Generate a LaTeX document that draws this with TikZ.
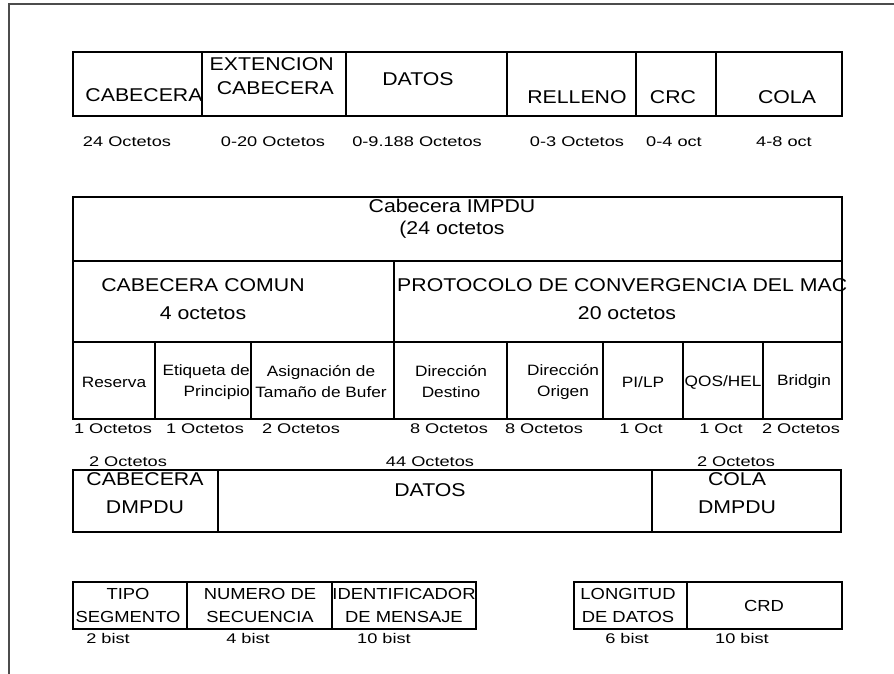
\documentclass[tikz,border=0pt]{standalone}
\usepackage{fontspec}
\setmainfont{Liberation Sans}[FakeStretch=1.15]
\newfontfamily\labfont{Liberation Sans}[FakeStretch=1.3]
\usepackage{tikz}

\begin{document}
\begin{tikzpicture}[x=1pt,y=-1pt,
  big/.style={font=\fontsize{18.5}{24}\selectfont,inner sep=0pt,align=center},
  small/.style={font=\fontsize{15}{21}\selectfont,inner sep=0pt,align=center},
  seg/.style={font=\fontsize{16}{23}\selectfont,inner sep=0pt,align=center},
  lab/.style={font=\labfont\fontsize{14}{14}\selectfont,inner sep=0pt},
  box/.style={line width=1.2pt},
  frame/.style={line width=2pt,black!70}]
\useasboundingbox (0,0) rectangle (894,674);
\draw[frame] (9,674) -- (9,4.5) -- (894,4.5);

\draw[box] (73,52) rectangle (842,116);
\foreach \x in {202,346,507,636,716} \draw[box] (\x,52) -- (\x,116);
\draw (144,95) node[big] (C1) {CABECERA} (334,76) node[big,anchor=east,align=right] (C2) {EXTENCION\\CABECERA} (418,79) node[big] (C3) {DATOS} (577,97) node[big] (C4) {RELLENO} (673,97) node[big] (C5) {CRC} (787,97) node[big] (C6) {COLA};
\draw (127,142) node[lab] (O1) {24 Octetos} (273,142) node[lab] (O2) {0-20 Octetos} (417,142) node[lab] (O3) {0-9.188 Octetos} (577,142) node[lab] (O4) {0-3 Octetos} (674,142) node[lab] (O5) {0-4 oct} (784,142) node[lab] (O6) {4-8 oct};

\draw[box] (73,197) rectangle (842,419);
\draw[box] (73,261) -- (842,261) (73,342) -- (842,342) (394,261) -- (394,419);
\foreach \x in {155,251,507,603,683,763} \draw[box] (\x,342) -- (\x,419);
\draw (452,219) node[big] (H0) {Cabecera IMPDU\\[-2pt](24 octetos};
\draw (203,299) node[big] (H1) {CABECERA COMUN\\[4pt]4 octetos};
\draw (397,285) node[big,anchor=west] (H2) {PROTOCOLO DE CONVERGENCIA DEL MAC} (627,313) node[big] (H3) {20 octetos};
\draw (114,382) node[small] (F1) {Reserva} (250,382) node[small,anchor=east,align=right] (F2) {Etiqueta de\\Principio} (321,382) node[small] (F3) {Asignación de\\Tamaño de Bufer} (451,382) node[small] (F4) {Dirección\\Destino} (563,382) node[small] (F5) {Dirección\\Origen} (643,382) node[small] (F6) {PI/LP} (723,382) node[small] (F7) {QOS/HEL} (804,382) node[small] (F8) {Bridgin};
\draw (113,429) node[lab] (P1) {1 Octetos} (205,429) node[lab] (P2) {1 Octetos} (301,429) node[lab] (P3) {2 Octetos} (449,429) node[lab] (P4) {8 Octetos} (544,429) node[lab] (P5) {8 Octetos} (641,429) node[lab] (P6) {1 Oct} (721,429) node[lab] (P7) {1 Oct} (801,429) node[lab] (P8) {2 Octetos};

\draw (128,462) node[lab] (Q1) {2 Octetos} (430,462) node[lab] (Q2) {44 Octetos} (736,462) node[lab] (Q3) {2 Octetos};
\draw[box] (73,470) rectangle (841,532);
\foreach \x in {218,652} \draw[box] (\x,470) -- (\x,532);
\draw (145,493) node[big] (D1) {CABECERA\\[4pt]DMPDU} (430,490) node[big] (D2) {DATOS} (737,493) node[big] (D3) {COLA\\[4pt]DMPDU};

\draw[box] (73,582) rectangle (476,629);
\foreach \x in {187,332} \draw[box] (\x,582) -- (\x,629);
\draw (128,605.5) node[seg] (S1) {TIPO\\SEGMENTO} (260,605.5) node[seg] (S2) {NUMERO DE\\SECUENCIA} (404,605.5) node[seg] (S3) {IDENTIFICADOR\\DE MENSAJE};
\draw[box] (574,582) rectangle (842,629);
\draw[box] (687,582) -- (687,629);
\draw (628,605.5) node[seg] (S4) {LONGITUD\\DE DATOS} (764,606) node[seg] (S5) {CRD};
\draw (108,638) node[lab] (B1) {2 bist} (248,638) node[lab] (B2) {4 bist} (384,638) node[lab] (B3) {10 bist} (627,638) node[lab] (B4) {6 bist} (742,638) node[lab] (B5) {10 bist};
\end{tikzpicture}
\end{document}
